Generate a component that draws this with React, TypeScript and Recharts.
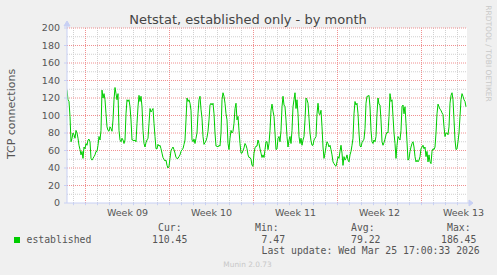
import React from "react";
import {
  LineChart,
  Line,
  XAxis,
  YAxis,
  CartesianGrid,
  ReferenceLine,
  ReferenceDot,
} from "recharts";

// ---- data (2-hour samples, hours relative to Monday 00:00 of week 09) ----
const firstSampleHour = -37;
const sampleStepHours = 2;

const established: number[] = [
  129, 118, 116, 99, 70, 74, 80, 78, 74, 83,
  80, 74, 66, 61, 55, 59, 51, 64, 62, 68,
  66, 72, 73, 70, 51, 49, 51, 53, 55, 59,
  59, 66, 76, 72, 83, 129, 120, 125, 118, 102,
  87, 83, 82, 87, 85, 82, 95, 118, 132, 125,
  118, 125, 83, 72, 70, 74, 72, 68, 72, 102,
  118, 116, 118, 110, 95, 72, 72, 71,
  72, 70, 91, 110, 123, 116, 122, 110, 83, 68,
  64, 69, 72, 74, 91, 108, 104, 106, 108, 91,
  76, 62, 62, 67, 65, 66, 62, 57, 52, 50,
  48, 49, 43, 40, 42, 51, 60, 62, 64, 61,
  57, 52, 51, 51, 53, 55, 59, 61, 62, 67,
  72, 95, 120, 116, 118, 114, 106, 72, 70, 73,
  68, 74, 80, 102, 118, 122,
  107, 97, 76, 67, 69, 71, 75, 82, 95, 112,
  114, 112, 114, 102, 80, 65, 65, 64, 66, 65,
  80, 118, 126, 122, 114, 102, 95, 68, 61, 74,
  83, 80, 82, 91, 108, 114, 95, 99, 83, 68,
  57, 57, 60, 63, 68, 66, 62, 55, 52, 52,
  50, 43, 42, 57, 63, 65, 65, 72, 68, 62,
  57, 52, 55, 52, 61, 70,
  70, 61, 68, 83, 106, 113, 105, 99, 80, 61,
  62, 74, 76, 70, 83, 110, 122, 112, 110, 95,
  76, 64, 72, 76, 68, 83, 110, 118, 126, 108,
  118, 102, 76, 68, 74, 66, 72, 76, 95, 120,
  118, 114, 97, 80, 71, 66, 66, 72, 74, 76,
  102, 114, 102, 101, 106, 87, 64, 51, 57, 64,
  70, 68, 64, 66, 61, 55,
  47, 45, 43, 42, 47, 53, 51, 59, 66, 57,
  43, 53, 49, 51, 55, 49, 47, 55, 59, 66,
  74, 102, 116, 112, 114, 102, 80, 65, 64, 69,
  71, 73, 85, 114, 122, 122, 123, 110, 83, 70,
  68, 72, 70, 76, 102, 120, 113, 112, 95, 70,
  66, 69, 73, 78, 81, 80, 99, 125, 116, 118,
  99, 80, 68, 51, 66, 76,
  74, 72, 83, 110, 112, 102, 110, 91, 70, 49,
  51, 59, 64, 68, 70, 64, 53, 47, 49, 47,
  49, 53, 62, 64, 66, 62, 64, 53, 59, 47,
  55, 47, 45, 59, 62, 61, 64, 80, 102, 113,
  110, 107, 106, 103, 101, 87, 76, 80, 80, 78,
  87, 114, 123, 126, 118, 95, 72, 61, 62, 70,
  80, 99, 118, 125, 122, 118, 116, 110,
];

const weekLabels = ["Week 09", "Week 10", "Week 11", "Week 12", "Week 13"];
const weekStartHours = [0, 168, 336, 504, 672];
const yTicks = [0, 20, 40, 60, 80, 100, 120, 140, 160, 180, 200];
const yMinorTicks = [10, 30, 50, 70, 90, 110, 130, 150, 170, 190];

const legendNames = ["established"];
const statHeads = ["Cur:", "Min:", "Avg:", "Max:"];
const statValues = ["110.45", "7.47", "79.22", "186.45"];
const lastUpdate = "Last update: Wed Mar 25 17:00:33 2026";

const xDomain: [number, number] = [firstSampleHour, firstSampleHour + 800];

const data = established.map((v, i) => ({
  t: firstSampleHour + i * sampleStepHours,
  v,
}));

const weekMidHours = weekStartHours.map((h) => h + 84);
const dayLines: number[] = [];
for (let h = -24; h <= 744; h += 24) {
  if (!weekStartHours.includes(h)) dayLines.push(h);
}
const allDays = [...dayLines, ...weekStartHours];
const yMajorLines = yTicks.filter((v) => v > 0);

const LINE_COLOR = "#00cc00";
const MINOR = "#d0d0d0";
const MAJOR = "#f09090";
const AXIS = "#c8d0f4";
const TEXT = "#555555";
const SANS = "DejaVu Sans, sans-serif";
const MONO = "DejaVu Sans Mono, monospace";

export default function App() {
  return (
    <div
      style={{
        position: "absolute",
        left: 0,
        top: 0,
        width: 497,
        height: 275,
        background: "#f0f0f0",
        fontFamily: SANS,
      }}
    >
      <LineChart
        width={497}
        height={275}
        data={data}
        margin={{ top: 28, right: 30, bottom: 42, left: 7 }}
      >
        <CartesianGrid
          fill="#ffffff"
          stroke={MINOR}
          strokeDasharray="1 1"
          horizontalValues={yMinorTicks}
          verticalValues={dayLines}
        />
        <CartesianGrid
          stroke={MAJOR}
          strokeDasharray="1 1"
          horizontalValues={yMajorLines}
          verticalValues={weekStartHours}
        />
        {allDays.map((h) => (
          <ReferenceLine
            key={"tk" + h}
            segment={[
              { x: h, y: 0 },
              { x: h, y: -2.5 },
            ]}
            stroke={AXIS}
            ifOverflow="visible"
          />
        ))}
        <XAxis
          dataKey="t"
          type="number"
          domain={xDomain}
          allowDataOverflow
          ticks={weekMidHours}
          tickFormatter={(h: number) => weekLabels[weekMidHours.indexOf(h)]}
          interval={0}
          tickLine={false}
          tickSize={3}
          tickMargin={3}
          height={30}
          axisLine={{ stroke: AXIS }}
          tick={{ fontSize: 9.5, fill: TEXT, fontFamily: SANS }}
        />
        <YAxis
          type="number"
          domain={[0, 200]}
          ticks={yTicks}
          interval={0}
          width={60}
          tickSize={3}
          tickMargin={4}
          tickLine={{ stroke: AXIS }}
          axisLine={{ stroke: AXIS }}
          tick={{ fontSize: 9.5, fill: TEXT, fontFamily: SANS }}
        />
        <Line
          type="linear"
          dataKey="v"
          stroke={LINE_COLOR}
          strokeWidth={1}
          dot={false}
          isAnimationActive={false}
        />
        <ReferenceDot
          x={xDomain[0]}
          y={200}
          r={0}
          shape={(p: any) => (
            <path
              d={`M${p.cx},${p.cy} L${p.cx},${p.cy - 2} M${p.cx - 3},${p.cy - 2} L${p.cx + 3},${p.cy - 2} L${p.cx},${p.cy - 7} Z`}
              fill={AXIS}
              stroke={AXIS}
              strokeWidth={1}
            />
          )}
        />
        <ReferenceDot
          x={xDomain[1]}
          y={0}
          r={0}
          shape={(p: any) => (
            <path
              d={`M${p.cx},${p.cy} L${p.cx + 2},${p.cy} M${p.cx + 2},${p.cy - 3} L${p.cx + 2},${p.cy + 3} L${p.cx + 6},${p.cy} Z`}
              fill={AXIS}
              stroke={AXIS}
              strokeWidth={1}
            />
          )}
        />
      </LineChart>
      <svg
        width={497}
        height={275}
        style={{ position: "absolute", left: 0, top: 0, pointerEvents: "none" }}
      >
        <text
          x={248}
          y={23.5}
          textAnchor="middle"
          fontSize={13}
          fill="#444"
          fontFamily={SANS}
        >
          Netstat, established only - by month
        </text>
        <text
          transform="translate(15,114) rotate(-90)"
          textAnchor="middle"
          fontSize={11}
          fill={TEXT}
          fontFamily={SANS}
        >
          TCP connections
        </text>
        <text
          transform="translate(486,53.5) rotate(90)"
          textAnchor="middle"
          fontSize={7.5}
          fill="#c8c8c8"
          fontFamily={SANS}
        >
          RRDTOOL / TOBI OETIKER
        </text>
        <rect x={14} y={237} width={6} height={6} fill={LINE_COLOR} />
        <text x={26.5} y={242.7} fontSize={9.8} fill={TEXT} fontFamily={MONO}>
          {legendNames[0]}
        </text>
        {[
          [158, 152],
          [255, 261.5],
          [351, 351],
          [447, 441],
        ].map(([hx, vx], k) => (
          <g key={k}>
            <text x={hx} y={230.7} fontSize={9.8} fill={TEXT} fontFamily={MONO}>
              {statHeads[k]}
            </text>
            <text x={vx} y={242.7} fontSize={9.8} fill={TEXT} fontFamily={MONO}>
              {statValues[k]}
            </text>
          </g>
        ))}
        <text x={261.5} y={254.3} fontSize={9.8} fill={TEXT} fontFamily={MONO}>
          {lastUpdate}
        </text>
        <text
          x={247.5}
          y={267}
          textAnchor="middle"
          fontSize={7.4}
          fill="#c8c8c8"
          fontFamily={SANS}
        >
          Munin 2.0.73
        </text>
      </svg>
    </div>
  );
}
